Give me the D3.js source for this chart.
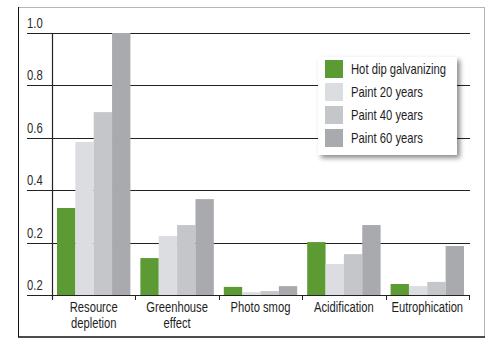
<!DOCTYPE html>
<html>
<head>
<meta charset="utf-8">
<script src="https://cdn.jsdelivr.net/npm/d3@7"></script>
<style>
  body { margin: 0; background: #fff; }
  svg { display: block; font-family: "Liberation Sans", Arial, sans-serif; }
</style>
</head>
<body>
<svg id="chart" width="500" height="351"></svg>
<script>
"use strict";

var categories = [["Resource", "depletion"], ["Greenhouse", "effect"], ["Photo smog"], ["Acidification"], ["Eutrophication"]]
var seriesNames = ["Hot dip galvanizing", "Paint 20 years", "Paint 40 years", "Paint 60 years"]
var hotDip = [0.332, 0.141, 0.031, 0.202, 0.042]
var paint20 = [0.584, 0.225, 0.011, 0.118, 0.034]
var paint40 = [0.698, 0.267, 0.015, 0.156, 0.05]
var paint60 = [1.0, 0.366, 0.034, 0.267, 0.187]
var tickValues = [0, 0.2, 0.4, 0.6, 0.8, 1.0]
var tickLabels = ["0.2", "0.2", "0.4", "0.6", "0.8", "1.0"]

var colors = ["#5c9b33", "#dcdde0", "#c4c6c9", "#a8aaae"]
var seriesValues = [hotDip, paint20, paint40, paint60]

var svg = d3.select("#chart")

// squeeze text to look like the condensed face of the original
function condense(factor) {
    return function(sel) {
        sel.each(function() {
            var w = this.getComputedTextLength()
            d3.select(this).attr("textLength", w * factor).attr("lengthAdjust", "spacingAndGlyphs")
        })
    }
}

// outer frame
var frame = svg.append("g")
frame.append("line").attr("x1", 18).attr("x2", 484).attr("y1", 7.5).attr("y2", 7.5).attr("stroke", "#b5b5b5")
frame.append("line").attr("x1", 484.5).attr("x2", 484.5).attr("y1", 7).attr("y2", 337).attr("stroke", "#b5b5b5")
frame.append("line").attr("x1", 18.5).attr("x2", 18.5).attr("y1", 7).attr("y2", 337).attr("stroke", "#111")
frame.append("line").attr("x1", 18).attr("x2", 485).attr("y1", 337).attr("y2", 337).attr("stroke", "#111").attr("stroke-width", 1.5)

var x0 = d3.scaleBand().domain(d3.range(categories.length)).range([52, 469])
var x1 = d3.scaleBand().domain(d3.range(seriesNames.length)).range([5, x0.bandwidth() - 5])
var y = d3.scaleLinear().domain([0, 1]).range([295, 33])

// gridlines + labels
var grid = svg.append("g").selectAll("g").data(tickValues).enter().append("g")
grid.append("line")
    .attr("x1", 27).attr("x2", 470)
    .attr("y1", function(d) { return Math.round(y(d)) + 0.5 })
    .attr("y2", function(d) { return Math.round(y(d)) + 0.5 })
    .attr("stroke", "#222").attr("stroke-width", 1.2)
grid.append("text")
    .attr("x", 27)
    .attr("y", function(d) { return y(d) - 5 })
    .attr("font-size", 15)
    .attr("fill", "#2a2a2a")
    .text(function(d, i) { return tickLabels[i] })
    .call(condense(0.75))

// bars
svg.append("g").selectAll("g")
    .data(categories)
    .enter().append("g")
    .attr("transform", function(d, i) { return "translate(" + x0(i) + ",0)" })
    .selectAll("rect")
    .data(function(d, i) { return seriesValues.map(function(s, j) { return { s: j, v: s[i] } }) })
    .enter().append("rect")
    .attr("x", function(d) { return x1(d.s) })
    .attr("width", x1.bandwidth())
    .attr("y", function(d) { return y(d.v) })
    .attr("height", function(d) { return y(0) - y(d.v) })
    .attr("fill", function(d) { return colors[d.s] })

// axis lines
svg.append("line").attr("x1", 52.5).attr("x2", 52.5).attr("y1", 33).attr("y2", 299).attr("stroke", "#222").attr("stroke-width", 1.2)
svg.append("line").attr("x1", 27).attr("x2", 470).attr("y1", 295.5).attr("y2", 295.5).attr("stroke", "#222").attr("stroke-width", 1.2)
svg.append("g").selectAll("line")
    .data(d3.range(categories.length + 1))
    .enter().append("line")
    .attr("x1", function(d) { return Math.round(52 + d * x0.bandwidth()) + 0.5 })
    .attr("x2", function(d) { return Math.round(52 + d * x0.bandwidth()) + 0.5 })
    .attr("y1", 295).attr("y2", 300)
    .attr("stroke", "#222")

// category labels, one text per line so each can be squeezed
svg.append("g").selectAll("g")
    .data(categories)
    .enter().append("g")
    .attr("transform", function(d, i) { return "translate(" + (x0(i) + x0.bandwidth() / 2) + ",0)" })
    .selectAll("text")
    .data(function(d) { return d })
    .enter().append("text")
    .attr("y", function(d, i) { return 312 + i * 16 })
    .attr("text-anchor", "middle")
    .attr("font-size", 14)
    .attr("fill", "#1e1e1e")
    .text(function(d) { return d })
    .call(condense(0.8))

// legend
var defs = svg.append("defs")
var f = defs.append("filter").attr("id", "shadow").attr("x", "-10%").attr("y", "-10%").attr("width", "130%").attr("height", "130%")
f.append("feDropShadow").attr("dx", 3).attr("dy", 3).attr("stdDeviation", 2.5).attr("flood-color", "#000").attr("flood-opacity", 0.45)

var legend = svg.append("g").attr("transform", "translate(318,57)")
legend.append("rect").attr("width", 139).attr("height", 98).attr("fill", "#fff").attr("filter", "url(#shadow)")
var items = legend.selectAll("g.item")
    .data(seriesNames)
    .enter().append("g")
    .attr("class", "item")
    .attr("transform", function(d, i) { return "translate(7," + (3 + i * 23) + ")" })
items.append("rect").attr("width", 18).attr("height", 18).attr("fill", function(d, i) { return colors[i] })
items.append("text")
    .attr("x", 26).attr("y", 14)
    .attr("font-size", 15)
    .attr("fill", "#1e1e1e")
    .text(function(d) { return d })
    .call(condense(0.75))
</script>
</body>
</html>
